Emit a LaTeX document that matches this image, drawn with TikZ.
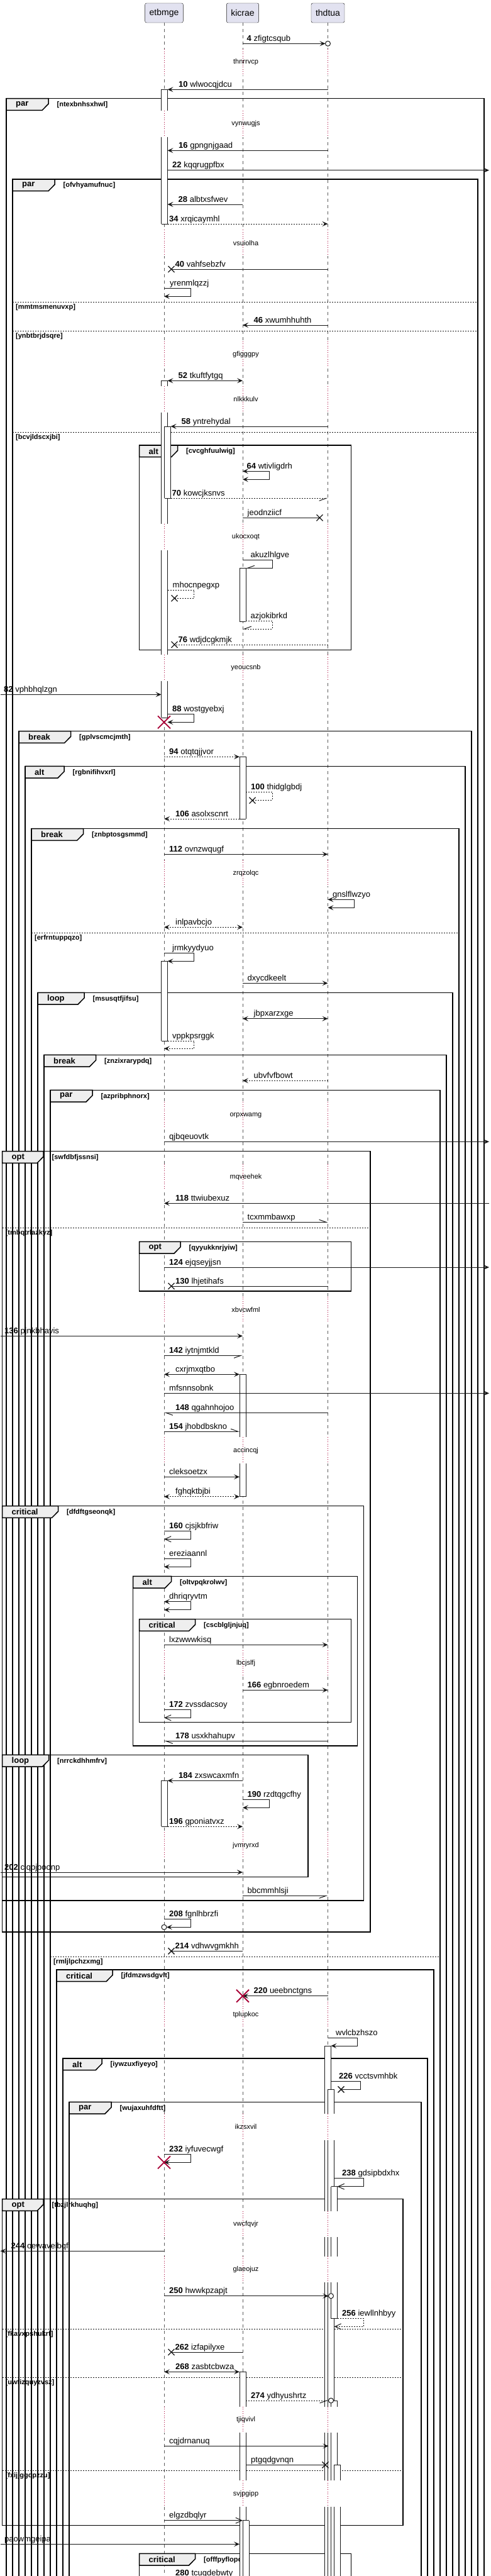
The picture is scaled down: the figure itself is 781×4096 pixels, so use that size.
\documentclass[tikz,border=0pt]{standalone}
\usepackage{fontspec}
\setmainfont{Liberation Sans}
\usetikzlibrary{arrows.meta}
\definecolor{lnc}{HTML}{181818}
\definecolor{partfill}{HTML}{E2E2F0}
\definecolor{tabfill}{HTML}{EEEEEE}
\definecolor{delayred}{HTML}{A80036}

\tikzset{
  part/.style={draw=lnc, fill=partfill, rounded corners=2.5pt, minimum height=31pt,
    inner xsep=7pt, font=\fontsize{14}{16}\selectfont},
  life/.style={draw=lnc!70, line width=0.8pt, dash pattern=on 5pt off 5pt},
  dly/.style={draw=delayred, line width=0.9pt, dash pattern=on 0.9pt off 2.6pt},
  actv/.style={draw=lnc, line width=1pt},
  msg/.style={draw=lnc, line width=1pt},
  retn/.style={dash pattern=on 2pt off 2pt},
  opnhd/.style={-{Straight Barb[length=10pt,width=9pt]}},
  hl/.style={-{Straight Barb[left,length=11pt,width=8pt]}},
  hr/.style={-{Straight Barb[right,length=11pt,width=8pt]}},
  lbl/.style={anchor=base west, inner sep=0pt, font=\fontsize{13}{15}\selectfont},
  dtxt/.style={inner sep=0pt, font=\fontsize{11}{13}\selectfont},
  frm/.style={draw=black, line width=1.5pt},
  tabf/.style={draw=black, line width=1.5pt, fill=tabfill},
  kw/.style={anchor=west, inner sep=0pt, font=\bfseries\fontsize{13}{15}\selectfont},
  grd/.style={anchor=west, inner sep=0pt, font=\bfseries\fontsize{11}{13}\selectfont},
  xm/.style={draw=lnc, line width=1.3pt},
  dstr/.style={draw=delayred, line width=1.8pt},
}

\newcommand{\seqno}[1]{\textbf{#1}}
% message: [style]{from}{to}{y}{label x}{name}{text}
\newcommand{\hmsg}[7][->]{%
  \draw[msg,#1] (#2 |- 0,#4) -- (#3 |- 0,#4);
  \node[lbl] (#6) at (#5,#4-4) {#7};}
% self message: [style]{from}{y1}{y2}{x out}{to}{label x}{name}{text}
\newcommand{\smsg}[9][->]{%
  \draw[msg,#1] (#2 |- 0,#3) -- (#5,#3) -- (#5,#4) -- (#6 |- 0,#4);
  \node[lbl] (#8) at (#7,#3-4) {#9};}
\newcommand{\actseg}[3]{%
  \fill[white] (#1,#2) rectangle (#1+10,#3);
  \draw[actv] (#1,#2) -- (#1,#3) (#1+10,#2) -- (#1+10,#3);}
\newcommand{\actcap}[2]{\draw[actv] (#1,#2) -- (#1+10,#2);}
% group frame: {L}{T}{R}{B}{tab width}{keyword}{guard}{name}
\newcommand{\grp}[8]{%
  \draw[frm] (#1,#2) rectangle (#3,#4);
  \filldraw[tabf] (#1,#2) -- (#1+#5,#2) -- (#1+#5,#2+8.5) -- (#1+#5-10,#2+18.7)
    -- (#1,#2+18.7) -- cycle;
  \node[kw] (#8-kw) at (#1+15,#2+9.5) {#6};
  \node[grd] (#8) at (#1+#5+13.5,#2+10) {[#7]};}
\newcommand{\grpelse}[5]{%
  \draw[lnc, line width=1pt, dash pattern=on 2pt off 2pt] (#1,#3) -- (#2,#3);
  \node[grd] (#5) at (#1+5,#3+8.5) {[#4]};}
\newcommand{\lostx}[2]{\draw[xm] (#1-5,#2-5) -- (#1+5,#2+5) (#1-5,#2+5) -- (#1+5,#2-5);}
\newcommand{\killx}[2]{\draw[dstr] (#1-10,#2-10) -- (#1+10,#2+10) (#1-10,#2+10) -- (#1+10,#2-10);}
\newcommand{\circend}[2]{\draw[msg, fill=white] (#1,#2) circle (4pt);}

\begin{document}
\begin{tikzpicture}[x=1pt, y=-1pt, >={Stealth[length=9pt,width=8pt,inset=4pt]}]
  \useasboundingbox (0,0) rectangle (781,4096);
  \clip (0,0) rectangle (781,4096);
  % Participants
  \node[part] (etbmge) at (261,20.5) {etbmge};
  \node[part] (kicrae) at (386,20.5) {kicrae};
  \node[part] (thdtua) at (521.5,20.5) {thdtua};
  % Activation edges and borders
  \coordinate (lft) at (0.5,0);
  \coordinate (rgt) at (778,0);
  \coordinate (el) at (256.5,0);
  \coordinate (er) at (266.5,0);
  \coordinate (ec) at (265,0);
  \coordinate (er2) at (271.5,0);
  \coordinate (ex) at (272.5,0);
  \coordinate (ex2) at (277.5,0);
  \coordinate (kl) at (381,0);
  \coordinate (kr) at (391,0);
  \coordinate (kx) at (401.5,0);
  \coordinate (tx) at (508.5,0);
  \coordinate (tc) at (517.5,0);
  \coordinate (tx2) at (517.5,0);
  \coordinate (tc2) at (522.5,0);
  \coordinate (tr1) at (526.5,0);
  \coordinate (tr2) at (531.5,0);
  \coordinate (tr3) at (536.5,0);
  \coordinate (tx3) at (542.5,0);

  % Lifelines
  \foreach \p in {etbmge,kicrae,thdtua}
    \draw[life] (\p.south) -- (\p |- 0,4200);
  % Delays
  \foreach \dy in {99,197,386.3,563.7,635,854,1062,1388.7,1773.3,1871.7,2082.7,2306.3,
      2645,2934.3,3203.7,3382,3536.7,3608.7,3847.7,3965.3}
    \foreach \p in {etbmge,kicrae,thdtua} {
      \draw[white, line width=3pt] (\p |- 0,\dy-21) -- (\p |- 0,\dy+20.5);
      \draw[dly] (\p |- 0,\dy-21) -- (\p |- 0,\dy+20.5);
    }

  % Frames
  \grp{10}{156.7}{770}{4200}{67}{par}{ntexbnhsxhwl}{g1}
  \grp{20}{285}{760}{4200}{67}{par}{ofvhyamufnuc}{g2}
  \grpelse{20}{760}{480}{mmtmsmenuvxp}{e1}
  \grpelse{20}{760}{526}{ynbtbrjdsqre}{e2}
  \grpelse{20}{760}{687.3}{bcvjldscxjbi}{e3}
  \grp{221.5}{708}{558.5}{1033.3}{61}{alt}{cvcghfuulwig}{g3}
  \grp{30}{1162.7}{750}{4200}{82.5}{break}{gplvscmcjmth}{g4}
  \grp{40}{1218.3}{740}{4200}{62}{alt}{rgbnifihvxrl}{g5}
  \grp{50}{1317.7}{730}{4200}{82.5}{break}{znbptosgsmmd}{g6}
  \grpelse{50}{730}{1483.3}{erfrntuppqzo}{e4}
  \grp{60}{1578.3}{720}{4200}{74}{loop}{msusqtfjifsu}{g7}
  \grp{70}{1677.3}{710}{4200}{82.5}{break}{znzixrarypdq}{g8}
  \grp{80}{1733.3}{700}{4200}{67}{par}{azpribphnorx}{g9}
  \grp{3.5}{1830.7}{589}{3072}{65.5}{opt}{swfdbfjssnsi}{g10}
  \grpelse{3.5}{589}{1952.3}{tmbqtrlazkyz}{e5}
  \grp{221.5}{1974.3}{558.5}{2053}{65.5}{opt}{qyyukknrjyiw}{g11}
  \grp{3.5}{2394.7}{578.5}{3022}{89}{critical}{dfdftgseonqk}{g12}
  \grp{211.5}{2506.3}{568.5}{2776}{61}{alt}{oltvpqkrolwv}{g13}
  \grp{221.5}{2574.7}{558.5}{2738.7}{89}{critical}{cscblgljnjuq}{g14}
  \grp{3.5}{2790.3}{490}{2984.7}{74}{loop}{nrrckdhhmfrv}{g15}
  \grpelse{80}{700}{3111.3}{rmljlpchzxmg}{e6}
  \grp{90}{3132}{690}{4200}{89}{critical}{jfdmzwsdgvlt}{g16}
  \grp{100}{3273}{680}{4200}{62}{alt}{iywzuxfiyeyo}{g17}
  \grp{110}{3342.3}{670}{4200}{67}{par}{wujaxuhfdftt}{g18}
  \grp{3.5}{3496.7}{641}{4015.3}{65.5}{opt}{tbzjlrkhuqhg}{g19}
  \grpelse{3.5}{641}{3703.3}{fkavxpshukrf}{e7}
  \grpelse{3.5}{641}{3780.3}{uwfizquyzvsz}{e8}
  \grpelse{3.5}{641}{3928}{fxijjggdpzzu}{e9}
  \grp{221.5}{4060.3}{558.5}{4200}{89}{critical}{offfpyflopoi}{g20}

  % Activations: etbmge
  \actseg{256.5}{142.3}{176} \actcap{256.5}{142.3}
  \actseg{256.5}{217.5}{356} \actcap{256.5}{356}
  \actseg{256.5}{605.3}{614} \actcap{256.5}{605.3}
  \actseg{256.5}{655.5}{833}
  \actseg{256.5}{874.5}{1041}
  \actseg{256.5}{1082.5}{1141} \actcap{256.5}{1141}
  \actseg{261.5}{678}{792.3} \actcap{261.5}{678} \actcap{261.5}{792.3}
  \actseg{256.5}{1528.3}{1655} \actcap{256.5}{1528.3} \actcap{256.5}{1655}
  \actseg{256.5}{2831.3}{2904.3} \actcap{256.5}{2831.3} \actcap{256.5}{2904.3}
  % Activations: kicrae
  \actseg{381}{903.3}{988} \actcap{381}{903.3} \actcap{381}{988}
  \actseg{381}{1203.3}{1302} \actcap{381}{1203.3} \actcap{381}{1302}
  \actseg{381}{2185.3}{2285.3} \actcap{381}{2185.3}
  \actseg{381}{2326.8}{2379.7} \actcap{381}{2379.7}
  \actseg{381}{3771.3}{3826.7} \actcap{381}{3771.3}
  \actseg{381}{3868.2}{3944.3}
  \actseg{381}{3985.8}{4200}
  \actseg{386}{4007.7}{4200} \actcap{386}{4007.7}
  % Activations: thdtua
  \actseg{516.5}{3253}{3361} \actcap{516.5}{3253}
  \foreach \a/\b in {3402.5/3515.7, 3557.2/3587.7, 3629.2/3826.7, 3868.2/3944.3, 3985.8/4200}
    \actseg{516.5}{\a}{\b};
  \actseg{521.5}{3322.3}{3361} \actcap{521.5}{3322.3}
  \foreach \a/\b in {3402.5/3515.7, 3557.2/3587.7, 3629.2/3826.7, 3868.2/3944.3, 3985.8/4200}
    \actseg{521.5}{\a}{\b};
  \actseg{526.5}{3476.7}{3515.7} \actcap{526.5}{3476.7}
  \actseg{526.5}{3557.2}{3587.7}
  \actseg{526.5}{3629.2}{3686.7} \actcap{526.5}{3686.7}
  \actseg{526.5}{3817}{3826.7} \actcap{526.5}{3817}
  \actseg{526.5}{3868.2}{3944.3}
  \actseg{526.5}{3985.8}{4200}
  \actseg{531.5}{3919.3}{3944.3} \actcap{531.5}{3919.3}
  \actseg{531.5}{3985.8}{4200}

  % Messages
  \hmsg{kicrae}{tc}{69.3}{392.5}{m4}{\seqno{4} zfigtcsqub}
  \circend{521.5}{69.3}
  \hmsg{thdtua}{er}{142.3}{284}{m10}{\seqno{10} wlwocqjdcu}
  \hmsg{thdtua}{er}{239.3}{284}{m16}{\seqno{16} gpngnjgaad}
  \hmsg{er}{rgt}{270.7}{274}{m22}{\seqno{22} kqqrugpfbx}
  \hmsg{kicrae}{er}{325}{283.5}{m28}{\seqno{28} albtxsfwev}
  \hmsg[->,retn]{er}{thdtua}{356}{269}{m34}{\seqno{34} xrqicaymhl}
  \hmsg[-]{thdtua}{ex}{428}{278.5}{m40}{\seqno{40} vahfsebzfv}
  \lostx{272.5}{428}
  \smsg{etbmge}{458}{471.3}{303.5}{etbmge}{270}{yrenmlqzzj}{yrenmlqzzj}
  \hmsg{thdtua}{kicrae}{517}{403.5}{m46}{\seqno{46} xwumhhuhth}
  \hmsg[<->]{er}{kicrae}{605.3}{283.5}{m52}{\seqno{52} tkuftfytgq}
  \hmsg{thdtua}{er2}{678}{288.5}{m58}{\seqno{58} yntrehydal}
  \smsg[<->]{kicrae}{749.3}{762.3}{428.5}{kicrae}{392.5}{m64}{\seqno{64} wtivligdrh}
  \hmsg[hr,retn]{er2}{thdtua}{792.3}{273.5}{m70}{\seqno{70} kowcjksnvs}
  \hmsg[-]{kicrae}{tx}{823.3}{393.5}{jeodnziicf}{jeodnziicf}
  \lostx{508.5}{823.3}
  \smsg[hr]{kicrae}{890.3}{903.3}{433}{kr}{398.5}{akuzlhlgve}{akuzlhlgve}
  \smsg[-,retn]{er}{938.3}{951.3}{308.5}{ex2}{274.5}{mhocnpegxp}{mhocnpegxp}
  \lostx{277.5}{951.3}
  \smsg[hr,retn]{kr}{987.3}{1000}{433}{kicrae}{398.5}{azjokibrkd}{azjokibrkd}
  \hmsg[-,retn]{thdtua}{ex2}{1025}{283.5}{m76}{\seqno{76} wdjdcgkmjk}
  \lostx{277.5}{1025}
  \hmsg{lft}{el}{1104.3}{6}{m82}{\seqno{82} vphbhqlzgn}
  \smsg{er}{1135.3}{1148.3}{308.5}{er}{274}{m88}{\seqno{88} wostgyebxj}
  \hmsg[->,retn]{etbmge}{kl}{1203.3}{269}{m94}{\seqno{94} otqtqjjvor}
  \smsg[-,retn]{kr}{1259.3}{1272.7}{433}{kx}{399}{m100}{\seqno{100} thidglgbdj}
  \lostx{401.5}{1272.7}
  \hmsg[->,retn]{kl}{etbmge}{1302}{279}{m106}{\seqno{106} asolxscnrt}
  \hmsg{etbmge}{thdtua}{1358.3}{269}{m112}{\seqno{112} ovnzwqugf}
  \smsg[<->]{thdtua}{1430.3}{1443.3}{563.5}{thdtua}{529}{gnslflwzyo}{gnslflwzyo}
  \hmsg[<->,retn]{etbmge}{kicrae}{1474.3}{279}{inlpavbcjo}{inlpavbcjo}
  \smsg{etbmge}{1515.3}{1528.3}{308.5}{er}{274}{jrmkyydyuo}{jrmkyydyuo}
  \hmsg{kicrae}{thdtua}{1563.3}{393.5}{dxycdkeelt}{dxycdkeelt}
  \hmsg[<->]{kicrae}{thdtua}{1619.7}{403.5}{jbpxarzxge}{jbpxarzxge}
  \smsg[->,retn]{er}{1655}{1667.3}{308.5}{etbmge}{274}{vppkpsrggk}{vppkpsrggk}
  \hmsg[->,retn]{thdtua}{kicrae}{1718.3}{403.5}{ubvfvfbowt}{ubvfvfbowt}
  \hmsg{etbmge}{rgt}{1815.3}{269}{qjbqeuovtk}{qjbqeuovtk}
  \hmsg{rgt}{etbmge}{1913.3}{279}{m118}{\seqno{118} ttwiubexuz}
  \hmsg[hl]{kicrae}{thdtua}{1943.3}{393.5}{tcxmmbawxp}{tcxmmbawxp}
  \hmsg{etbmge}{rgt}{2015}{269}{m124}{\seqno{124} ejqseyjjsn}
  \hmsg[-]{thdtua}{ex}{2045}{279}{m130}{\seqno{130} lhjetihafs}
  \lostx{272.5}{2045}
  \hmsg{lft}{kicrae}{2124.3}{7}{m136}{\seqno{136} pjnkbhavis}
  \hmsg[hr]{etbmge}{kicrae}{2155.3}{269}{m142}{\seqno{142} iytnjmtkld}
  \hmsg[<->]{etbmge}{kl}{2185.3}{279}{cxrjmxqtbo}{cxrjmxqtbo}
  \hmsg{etbmge}{rgt}{2215.3}{269}{mfsnnsobnk}{mfsnnsobnk}
  \hmsg[hl]{thdtua}{etbmge}{2246.3}{279}{m148}{\seqno{148} qgahnhojoo}
  \hmsg[hl]{etbmge}{kl}{2276}{269}{m154}{\seqno{154} jhobdbskno}
  \hmsg{etbmge}{kl}{2348.3}{269}{cleksoetzx}{cleksoetzx}
  \hmsg[<->,retn]{etbmge}{kl}{2379.7}{279}{fghqktbjbi}{fghqktbjbi}
  \smsg[opnhd]{etbmge}{2434}{2447.3}{303.5}{etbmge}{269}{m160}{\seqno{160} cjsjkbfriw}
  \smsg{etbmge}{2478.3}{2491.3}{303.5}{etbmge}{269}{ereziaannl}{ereziaannl}
  \smsg[<->]{etbmge}{2546.7}{2559.7}{303.5}{etbmge}{269}{dhriqryvtm}{dhriqryvtm}
  \hmsg{etbmge}{thdtua}{2615.3}{269}{lxzwwwkisq}{lxzwwwkisq}
  \hmsg{kicrae}{thdtua}{2687.3}{393.5}{m166}{\seqno{166} egbnroedem}
  \smsg[opnhd]{etbmge}{2718}{2731.3}{303.5}{etbmge}{269}{m172}{\seqno{172} zvssdacsoy}
  \hmsg[hl]{thdtua}{etbmge}{2768.3}{279}{m178}{\seqno{178} usxkhahupv}
  \hmsg{kicrae}{er}{2831.3}{284}{m184}{\seqno{184} zxswcaxmfn}
  \smsg{kicrae}{2861.3}{2874.3}{428.5}{kicrae}{393.5}{m190}{\seqno{190} rzdtqgcfhy}
  \hmsg[->,retn]{er}{kicrae}{2904.3}{269}{m196}{\seqno{196} gponiatvxz}
  \hmsg{lft}{kicrae}{2977}{7}{m202}{\seqno{202} cjqpjpoonp}
  \hmsg[hr]{kicrae}{thdtua}{3014.3}{393.5}{bbcmmhlsji}{bbcmmhlsji}
  \smsg{etbmge}{3051.3}{3064.3}{303.5}{ec}{269}{m208}{\seqno{208} fgnlhbrzfi}
  \circend{261}{3064.3}
  \hmsg[-]{kicrae}{ex}{3102.3}{278.5}{m214}{\seqno{214} vdhwvgmkhh}
  \lostx{272.5}{3102.3}
  \hmsg{thdtua}{kicrae}{3173.7}{403.5}{m220}{\seqno{220} ueebnctgns}
  \smsg{thdtua}{3240.3}{3253}{568.5}{tr1}{534}{wvlcbzhszo}{wvlcbzhszo}
  \smsg[-]{tr1}{3309}{3322.3}{573.5}{tx3}{539}{m226}{\seqno{226} vcctsvmhbk}
  \lostx{542.5}{3322.3}
  \smsg{etbmge}{3425}{3438.3}{303.5}{etbmge}{269}{m232}{\seqno{232} iyfuvecwgf}
  \smsg[opnhd]{tr2}{3463.3}{3476.7}{578.5}{tr3}{544}{m238}{\seqno{238} gdsipbdxhx}
  \hmsg{etbmge}{lft}{3579.3}{17.5}{m244}{\seqno{244} oewaveibqf}
  \hmsg{etbmge}{tc2}{3650.7}{269}{m250}{\seqno{250} hwwkpzapjt}
  \circend{526.5}{3650.7}
  \smsg[opnhd,retn]{tr3}{3686.7}{3699.3}{578.5}{tr2}{544}{m256}{\seqno{256} iewllnhbyy}
  \hmsg[-]{kicrae}{ex}{3740}{278.5}{m262}{\seqno{262} izfapilyxe}
  \lostx{272.5}{3740}
  \hmsg[<->]{etbmge}{kl}{3771.3}{279}{m268}{\seqno{268} zasbtcbwza}
  \hmsg[hr,retn]{kr}{tc2}{3817}{399}{m274}{\seqno{274} ydhyushrtz}
  \circend{526.5}{3817}
  \hmsg{etbmge}{tc2}{3889.3}{269}{cqjdrnanuq}{cqjdrnanuq}
  \hmsg[-]{kr}{tx2}{3919.3}{399}{ptgqdgvnqn}{ptgqdgvnqn}
  \lostx{517.5}{3919.3}
  \hmsg[opnhd]{etbmge}{kicrae}{4007.7}{269}{elgzdbqlyr}{elgzdbqlyr}
  \hmsg{lft}{kl}{4045.3}{7}{paowmgeipa}{paowmgeipa}
  \node[lbl] (m280) at (279,4095.5) {\seqno{280} tcugdebwty};

  % Destroyed lifelines
  \killx{261}{1148.3}
  \killx{386}{3173.7}
  \killx{261}{3438.3}

  % Delay texts
  \foreach \dy/\dt in {99/thnrrvcp, 197/vynwugjs, 386.3/vsuiolha, 563.7/gfigggpy,
      635/nlkkkulv, 854/ukocxoqt, 1062/yeoucsnb, 1388.7/zrqzolqc, 1773.3/orpxwamg,
      1871.7/mqveehek, 2082.7/xbvcwfml, 2306.3/accincqj, 2645/lbcjslfj, 2934.3/jvmryrxd,
      3203.7/tplupkoc, 3382/ikzsxvil, 3536.7/vwcfqvjr, 3608.7/glaeojuz, 3847.7/tjiqvivl,
      3965.3/svjpgipp}
    \node[dtxt] (\dt) at (391,\dy) {\dt};
\end{tikzpicture}
\end{document}
